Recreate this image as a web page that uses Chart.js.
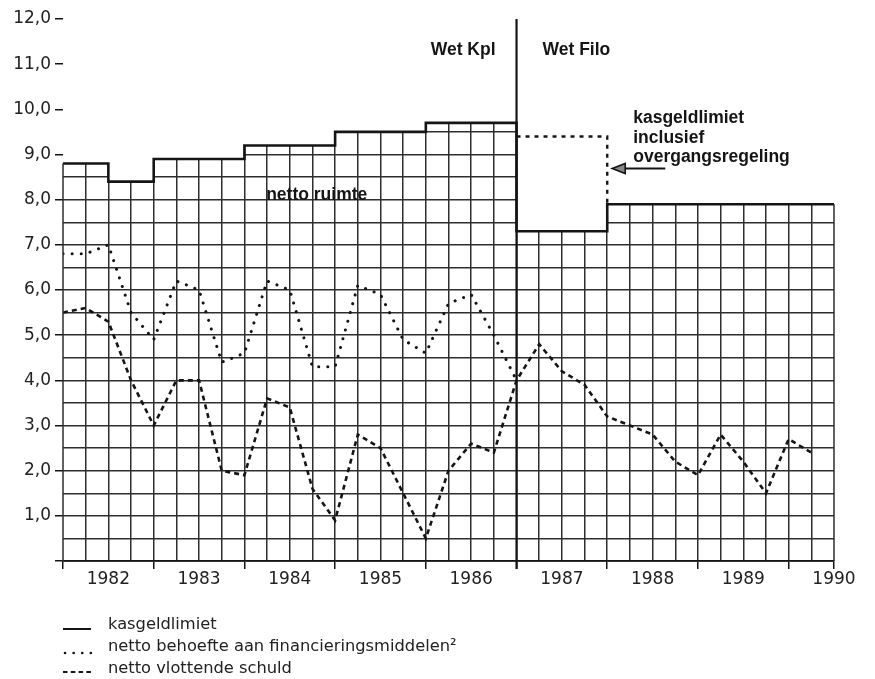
<!DOCTYPE html>
<html>
<head>
<meta charset="utf-8">
<script src="https://cdn.jsdelivr.net/npm/chart.js@4/dist/chart.umd.min.js"></script>
<style>
  html, body { margin: 0; padding: 0; background: #fff; }
  #wrap { width: 875px; height: 679px; position: relative; }
</style>
</head>
<body>
<div id="wrap"><canvas id="myChart" width="875" height="679"></canvas></div>
<script>
// quarter boundaries, 1981 Q3 .. 1990
const quarters = [1981.5, 1981.75, 1982, 1982.25, 1982.5, 1982.75, 1983, 1983.25, 1983.5, 1983.75,
    1984, 1984.25, 1984.5, 1984.75, 1985, 1985.25, 1985.5, 1985.75, 1986, 1986.25,
    1986.5, 1986.75, 1987, 1987.25, 1987.5, 1987.75, 1988, 1988.25, 1988.5, 1988.75,
    1989, 1989.25, 1989.5, 1989.75, 1990];

const kasgeldlimiet = [8.8, 8.8, 8.4, 8.4, 8.9, 8.9, 8.9, 8.9, 9.2, 9.2,
    9.2, 9.2, 9.5, 9.5, 9.5, 9.5, 9.7, 9.7, 9.7, 9.7,
    7.3, 7.3, 7.3, 7.3, 7.9, 7.9, 7.9, 7.9, 7.9, 7.9,
    7.9, 7.9, 7.9, 7.9, 7.9];

const nettoBehoefte = [6.8, 6.8, 7.0, 5.5, 4.9, 6.2, 6.0, 4.4, 4.6, 6.2,
    6.0, 4.3, 4.3, 6.1, 5.9, 4.9, 4.6, 5.7, 5.9, 5.0, 4.0];

const nettoVlottend = [5.5, 5.6, 5.3, 4.0, 3.0, 4.0, 4.0, 2.0, 1.9, 3.6,
    3.4, 1.6, 0.9, 2.8, 2.5, 1.5, 0.5, 2.0, 2.6, 2.4,
    4.0, 4.8, 4.2, 3.9, 3.2, 3.0, 2.8, 2.2, 1.9, 2.8,
    2.2, 1.5, 2.7, 2.4];

// kasgeldlimiet inclusief overgangsregeling
const overgangX = [1986.5, 1987.5];
const overgangY = [9.4, 7.9];

const wetGrens = 1986.5;
const legendLabels = ['kasgeldlimiet', 'netto behoefte aan financieringsmiddelen\u00b2', 'netto vlottende schuld'];

const ink = '#151515';
const gridInk = '#2e2e2e';
const gridWidth = 1.5;
const labelFont = { family: 'DejaVu Sans', size: 17 };
const clear = 'rgba(0,0,0,0)';

const isWhole = v => Math.abs(v - Math.round(v)) < 1e-6;
const toPoints = (ys, xs) => ys.map((y, i) => ({ x: xs[i], y: y }));

const annotations = {
    id: 'annotations',
    afterDatasetsDraw(chart) {
        const ctx = chart.ctx;
        const xs = chart.scales.x, ys = chart.scales.y;
        const area = chart.chartArea;
        ctx.save();

        // outer grid edges, only up to the kasgeldlimiet
        ctx.strokeStyle = gridInk;
        ctx.lineWidth = gridWidth;
        [[quarters[0], kasgeldlimiet[0]], [quarters[quarters.length - 1], kasgeldlimiet[kasgeldlimiet.length - 1]]].forEach(([qx, qy]) => {
            const px = xs.getPixelForValue(qx);
            ctx.beginPath();
            ctx.moveTo(px, ys.getPixelForValue(0));
            ctx.lineTo(px, ys.getPixelForValue(qy));
            ctx.stroke();
        });

        // boundary Wet Kpl / Wet Filo
        const gx = xs.getPixelForValue(wetGrens);
        ctx.strokeStyle = ink;
        ctx.lineWidth = 2.2;
        ctx.setLineDash([]);
        ctx.beginPath();
        ctx.moveTo(gx, area.top);
        ctx.lineTo(gx, area.bottom + 8);
        ctx.stroke();

        ctx.fillStyle = ink;
        ctx.font = 'bold 17.5px "Liberation Sans", Arial, sans-serif';
        ctx.textBaseline = 'middle';
        ctx.textAlign = 'right';
        ctx.fillText('Wet Kpl', gx - 21, ys.getPixelForValue(11.3));
        ctx.textAlign = 'left';
        ctx.fillText('Wet Filo', gx + 26, ys.getPixelForValue(11.3));

        const ox = xs.getPixelForValue(overgangX[1]);
        let ty = ys.getPixelForValue(9.8);
        ['kasgeldlimiet', 'inclusief', 'overgangsregeling'].forEach(t => {
            ctx.fillText(t, ox + 26, ty);
            ty += 19.5;
        });

        ctx.fillText('netto ruimte', xs.getPixelForValue(1983.74), ys.getPixelForValue(8.1));

        // arrow pointing at the dotted step
        const ay = ys.getPixelForValue(8.69);
        const tip = ox + 5;
        ctx.lineWidth = 1.8;
        ctx.beginPath();
        ctx.moveTo(xs.getPixelForValue(1988.14), ay);
        ctx.lineTo(tip + 12, ay);
        ctx.stroke();
        ctx.beginPath();
        ctx.moveTo(tip, ay);
        ctx.lineTo(tip + 13, ay - 5);
        ctx.lineTo(tip + 13, ay + 5);
        ctx.closePath();
        ctx.fillStyle = '#888';
        ctx.fill();
        ctx.lineWidth = 1.6;
        ctx.stroke();

        // legend
        const styles = [
            { dash: [], cap: 'butt', width: 2, from: 63, to: 91, dy: 4 },
            { dash: [0.1, 8.5], cap: 'round', width: 2.6, from: 65, to: 92, dy: 6 },
            { dash: [4.5, 3.3], cap: 'butt', width: 2.2, from: 63, to: 91, dy: 3 }
        ];
        ctx.font = '16.3px "DejaVu Sans", sans-serif';
        ctx.textAlign = 'left';
        ctx.textBaseline = 'middle';
        legendLabels.forEach((label, i) => {
            const y = 625 + i * 22;
            const s = styles[i];
            ctx.strokeStyle = ink;
            ctx.lineWidth = s.width;
            ctx.lineCap = s.cap;
            ctx.setLineDash(s.dash);
            ctx.beginPath();
            ctx.moveTo(s.from, y + s.dy);
            ctx.lineTo(s.to, y + s.dy);
            ctx.stroke();
            ctx.fillStyle = '#222';
            ctx.fillText(label, 108, y);
        });
        ctx.restore();
    }
};

const config = {
    type: 'line',
    data: {
        datasets: [{
            label: legendLabels[2],
            data: toPoints(nettoVlottend, quarters),
            borderColor: ink,
            borderWidth: 2.6,
            borderDash: [5, 4],
            pointRadius: 0,
            fill: false
        }, {
            label: legendLabels[1],
            data: toPoints(nettoBehoefte, quarters),
            borderColor: ink,
            borderWidth: 3,
            borderDash: [0.1, 9],
            borderCapStyle: 'round',
            pointRadius: 0,
            fill: false
        }, {
            label: 'kasgeldlimiet inclusief overgangsregeling',
            data: toPoints(overgangY, overgangX),
            borderColor: ink,
            borderWidth: 2.4,
            borderDash: [4, 5],
            stepped: true,
            pointRadius: 0,
            fill: false
        }, {
            label: legendLabels[0],
            data: toPoints(kasgeldlimiet, quarters),
            borderColor: ink,
            borderWidth: 2.6,
            stepped: true,
            pointRadius: 0,
            fill: 'end',
            backgroundColor: '#ffffff'
        }]
    },
    options: {
        responsive: false,
        animation: false,
        layout: { padding: { left: 0, top: 19, right: 41, bottom: 78 } },
        scales: {
            x: {
                type: 'linear',
                min: 1981.5,
                max: 1990,
                afterFit: s => { s.height = 40; },
                ticks: {
                    stepSize: 0.25,
                    autoSkip: false,
                    maxRotation: 0,
                    padding: 0,
                    color: '#222',
                    font: labelFont,
                    callback: v => isWhole(v) ? String(Math.round(v)) : ''
                },
                grid: {
                    color: c => (c.tick.value <= 1981.5 || c.tick.value >= 1990) ? clear : gridInk,
                    lineWidth: gridWidth,
                    drawTicks: true,
                    tickLength: 8,
                    tickWidth: 1.5,
                    tickColor: c => (!isWhole(c.tick.value) && isWhole(c.tick.value * 2)) || c.tick.value >= 1990 ? ink : clear
                },
                border: { display: true, color: ink, width: 1.8 }
            },
            y: {
                min: 0,
                max: 12,
                afterFit: s => { s.width = 63; },
                ticks: {
                    stepSize: 0.5,
                    autoSkip: false,
                    padding: 4,
                    color: '#222',
                    font: labelFont,
                    callback: v => isWhole(v) && v > 0 ? v.toFixed(1).replace('.', ',') : ''
                },
                grid: {
                    color: c => c.tick.value >= 12 ? clear : gridInk,
                    lineWidth: gridWidth,
                    drawTicks: true,
                    tickLength: 8,
                    tickWidth: 1.5,
                    tickColor: c => isWhole(c.tick.value) ? ink : clear
                },
                border: { display: false }
            }
        },
        plugins: {
            legend: { display: false },
            tooltip: { enabled: false },
            filler: { drawTime: 'beforeDatasetsDraw' }
        }
    },
    plugins: [annotations]
};

function buildChart() {
    const ctx = document.getElementById('myChart').getContext('2d');
    return new Chart(ctx, config);
}

window.addEventListener('load', () => {
    buildChart();
});
</script>
</body>
</html>
